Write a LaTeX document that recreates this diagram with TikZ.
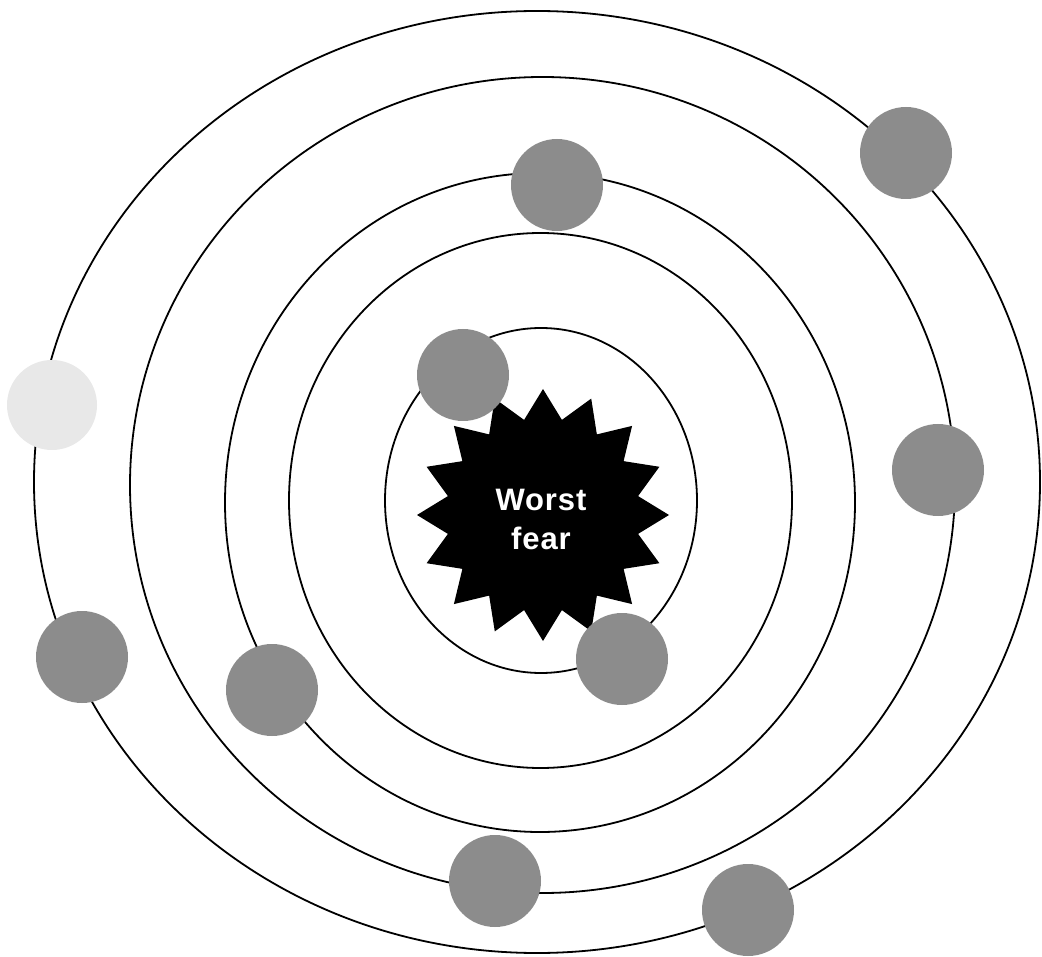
\documentclass[tikz,border=0pt]{standalone}
\usepackage{fontspec}
\newfontfamily\labelfont[LetterSpace=3]{Liberation Sans}
\usetikzlibrary{shapes.geometric}
\definecolor{planetgray}{RGB}{140,140,140}
\definecolor{faintgray}{RGB}{232,232,232}
\begin{document}
\begin{tikzpicture}[x=1pt,y=-1pt,
  orbit/.style={draw=black, line width=1.8pt},
  planet/.style={circle, inner sep=0pt, minimum size=92pt, fill=planetgray, draw=none},
  faintplanet/.style={circle, inner sep=0pt, minimum size=90pt, fill=faintgray, draw=none},
  burststyle/.style={star, star points=16, star point ratio=1.3, minimum size=252pt, inner sep=0pt, fill=black, draw=none},
  labelstyle/.style={text=white, align=center, inner sep=0pt, font=\labelfont\bfseries\fontsize{31}{39}\selectfont}
]
\fill[white] (0,0) rectangle (1042,957);
\useasboundingbox (0,0) rectangle (1042,957);
% orbits
\draw[orbit] (537,482) ellipse [x radius=503pt, y radius=471pt];
\draw[orbit] (542.5,485) ellipse [x radius=412.5pt, y radius=408pt];
\draw[orbit] (540,502.5) ellipse [x radius=315pt, y radius=329.5pt];
\draw[orbit] (540.5,500.5) ellipse [x radius=251.5pt, y radius=267.5pt];
\draw[orbit] (541,500.5) ellipse [x radius=156pt, y radius=172.5pt];
% central star
\node[burststyle] (burst) at (543,515) {};
\node[labelstyle] (label) at (541,519) {Worst\\fear};
% planets
\node[planet] (pA) at (906,153) {};
\node[planet] (pB) at (557,185) {};
\node[planet] (pC) at (463,375) {};
\node[planet] (pD) at (938,470) {};
\node[faintplanet] (pE) at (52,405) {};
\node[planet] (pF) at (82,657) {};
\node[planet] (pG) at (272,690) {};
\node[planet] (pH) at (622,659) {};
\node[planet] (pI) at (495,881) {};
\node[planet] (pJ) at (748,910) {};
\end{tikzpicture}
\end{document}
